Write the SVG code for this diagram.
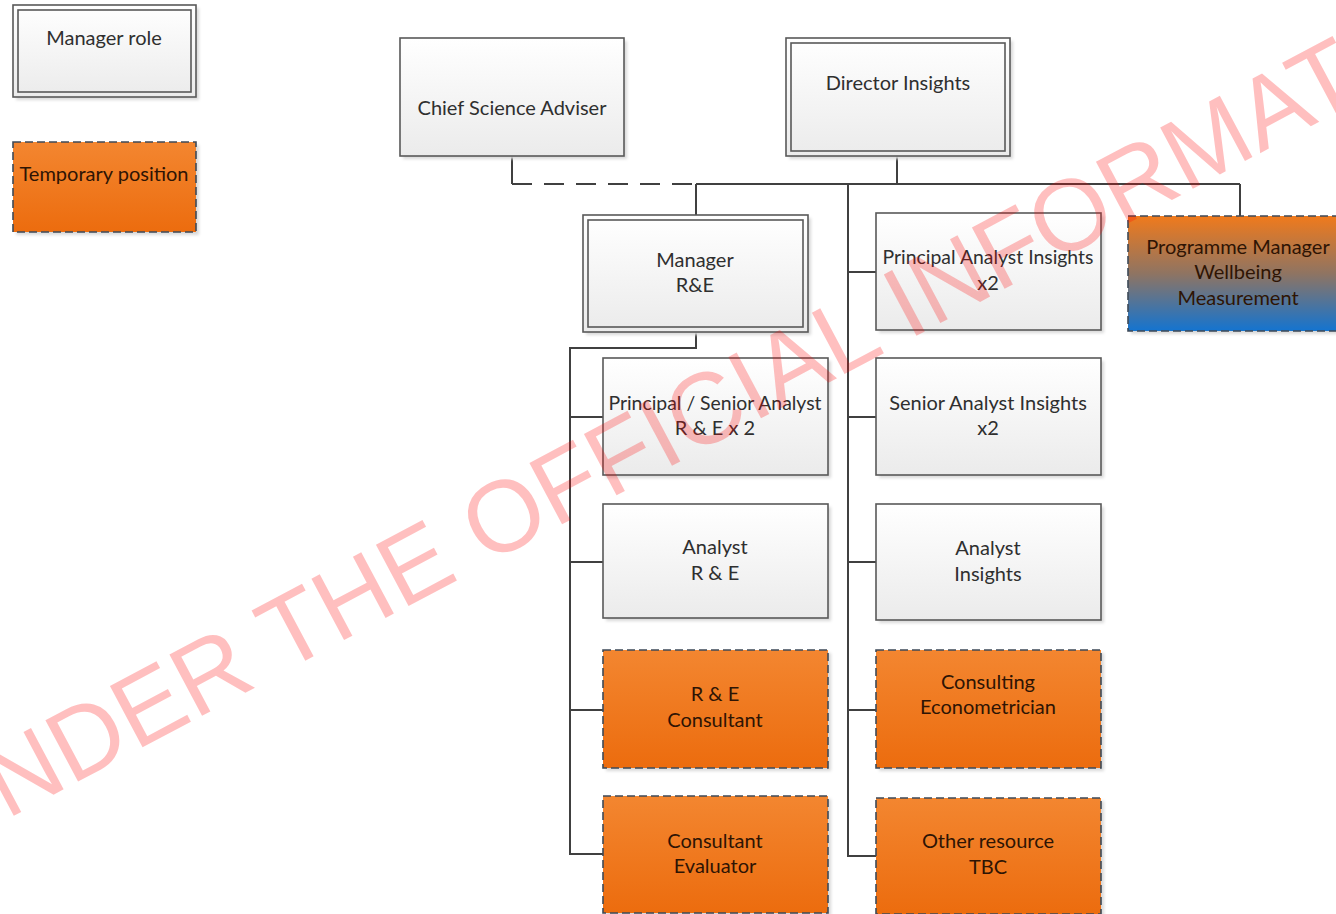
<svg xmlns="http://www.w3.org/2000/svg" width="1336" height="914" viewBox="0 0 1336 914">
  <defs>
    <linearGradient id="gGray" x1="0" y1="0" x2="0" y2="1">
      <stop offset="0" stop-color="#ffffff"/>
      <stop offset="1" stop-color="#ebebeb"/>
    </linearGradient>
    <linearGradient id="gOrange" x1="0" y1="0" x2="0" y2="1">
      <stop offset="0" stop-color="#f38630"/>
      <stop offset="1" stop-color="#ec6c0e"/>
    </linearGradient>
    <linearGradient id="gMixed" x1="0" y1="0" x2="0" y2="1">
      <stop offset="0" stop-color="#f07a1c"/>
      <stop offset="0.5" stop-color="#8f7462"/>
      <stop offset="1" stop-color="#1474d0"/>
    </linearGradient>
    <filter id="soft" x="-10%" y="-10%" width="130%" height="130%">
      <feGaussianBlur stdDeviation="1.5"/>
    </filter>
  </defs>
  <style>
    .shadow { fill: #d9d9d9; filter: url(#soft); }
    .box { fill: url(#gGray); stroke: #595959; stroke-width: 1.6; }
    .inner { fill: none; stroke: #595959; stroke-width: 1.6; }
    .temp { fill: url(#gOrange); stroke: #3e4a58; stroke-width: 1.6; stroke-dasharray: 8 4; }
    .mixed { fill: url(#gMixed); stroke: #3e4a58; stroke-width: 1.6; stroke-dasharray: 8 4; }
    .lbl { font-family: Lato, "Open Sans", "Liberation Sans", sans-serif; font-size: 20px; fill: #2f2f2f; text-anchor: middle; }
    .lblT { font-family: Lato, "Open Sans", "Liberation Sans", sans-serif; font-size: 20px; fill: #2e1404; text-anchor: middle; }
    .narrow { font-size: 19.4px; }
    .wire { fill: none; stroke: #404040; stroke-width: 2; }
    .dash { fill: none; stroke: #404040; stroke-width: 2; stroke-dasharray: 20 12; }
    .mark { font-family: "Liberation Sans", Arial, sans-serif; font-size: 101px; fill: #ff0000; fill-opacity: 0.25; }
  </style>

  <rect width="1336" height="914" fill="#ffffff"/>

  <!-- legend -->
  <g id="legend-manager">
    <rect class="shadow" x="16" y="8" width="183" height="92"/>
    <rect class="box" x="13" y="5" width="183" height="92"/>
    <rect class="inner" x="18" y="10" width="173" height="82"/>
    <text class="lbl" x="104" y="45">Manager role</text>
  </g>
  <g id="legend-temporary">
    <rect class="shadow" x="16" y="145" width="183" height="90"/>
    <rect class="temp" x="13" y="142" width="183" height="90"/>
    <text class="lblT" x="104" y="181">Temporary position</text>
  </g>

  <!-- connectors -->
  <g id="connectors">
    <path class="wire" d="M512 156 V184"/>
    <path class="dash" d="M512 184 H696"/>
    <path class="wire" d="M897 156 V184 M696 184 H1240 M696 184 V215 M1240 184 V216"/>
    <path class="wire" d="M848 184 V856 H876 M848 272 H876 M848 417 H876 M848 562 H876 M848 710 H876"/>
    <path class="wire" d="M696 332 V348 H570 V854 H603 M570 417 H603 M570 562 H603 M570 710 H603"/>
  </g>

  <!-- top level -->
  <g id="chief-science-adviser">
    <rect class="shadow" x="403" y="41" width="224" height="118"/>
    <rect class="box" x="400" y="38" width="224" height="118"/>
    <text class="lbl" x="512" y="115">Chief Science Adviser</text>
  </g>
  <g id="director-insights">
    <rect class="shadow" x="789" y="41" width="224" height="118"/>
    <rect class="box" x="786" y="38" width="224" height="118"/>
    <rect class="inner" x="791" y="43" width="214" height="108"/>
    <text class="lbl" x="898" y="90">Director Insights</text>
  </g>

  <!-- second level -->
  <g id="manager-re">
    <rect class="shadow" x="586" y="218" width="225" height="117"/>
    <rect class="box" x="583" y="215" width="225" height="117"/>
    <rect class="inner" x="588" y="220" width="215" height="107"/>
    <text class="lbl" x="695" y="267">Manager</text>
    <text class="lbl" x="695" y="292">R&amp;E</text>
  </g>
  <g id="principal-analyst-insights">
    <rect class="shadow" x="879" y="216" width="225" height="117"/>
    <rect class="box" x="876" y="213" width="225" height="117"/>
    <text class="lbl narrow" x="988" y="264">Principal Analyst Insights</text>
    <text class="lbl" x="988" y="290">x2</text>
  </g>
  <g id="programme-manager">
    <rect class="shadow" x="1131" y="219" width="215" height="115"/>
    <rect class="mixed" x="1128" y="216" width="215" height="115"/>
    <text class="lblT" x="1238" y="254">Programme Manager</text>
    <text class="lblT" x="1238" y="279">Wellbeing</text>
    <text class="lblT" x="1238" y="305">Measurement</text>
  </g>

  <!-- R&E column -->
  <g id="principal-senior-analyst-re">
    <rect class="shadow" x="606" y="361" width="225" height="117"/>
    <rect class="box" x="603" y="358" width="225" height="117"/>
    <text class="lbl narrow" x="715" y="410">Principal / Senior Analyst</text>
    <text class="lbl" x="715" y="435">R &amp; E x 2</text>
  </g>
  <g id="analyst-re">
    <rect class="shadow" x="606" y="507" width="225" height="114"/>
    <rect class="box" x="603" y="504" width="225" height="114"/>
    <text class="lbl" x="715" y="554">Analyst</text>
    <text class="lbl" x="715" y="580">R &amp; E</text>
  </g>
  <g id="re-consultant">
    <rect class="shadow" x="606" y="653" width="225" height="118"/>
    <rect class="temp" x="603" y="650" width="225" height="118"/>
    <text class="lblT" x="715" y="701">R &amp; E</text>
    <text class="lblT" x="715" y="727">Consultant</text>
  </g>
  <g id="consultant-evaluator">
    <rect class="shadow" x="606" y="799" width="225" height="117"/>
    <rect class="temp" x="603" y="796" width="225" height="117"/>
    <text class="lblT" x="715" y="848">Consultant</text>
    <text class="lblT" x="715" y="873">Evaluator</text>
  </g>

  <!-- Insights column -->
  <g id="senior-analyst-insights">
    <rect class="shadow" x="879" y="361" width="225" height="117"/>
    <rect class="box" x="876" y="358" width="225" height="117"/>
    <text class="lbl" x="988" y="410">Senior Analyst Insights</text>
    <text class="lbl" x="988" y="435">x2</text>
  </g>
  <g id="analyst-insights">
    <rect class="shadow" x="879" y="507" width="225" height="116"/>
    <rect class="box" x="876" y="504" width="225" height="116"/>
    <text class="lbl" x="988" y="555">Analyst</text>
    <text class="lbl" x="988" y="581">Insights</text>
  </g>
  <g id="consulting-econometrician">
    <rect class="shadow" x="879" y="653" width="225" height="118"/>
    <rect class="temp" x="876" y="650" width="225" height="118"/>
    <text class="lblT" x="988" y="689">Consulting</text>
    <text class="lblT" x="988" y="714">Econometrician</text>
  </g>
  <g id="other-resource">
    <rect class="shadow" x="879" y="801" width="225" height="116"/>
    <rect class="temp" x="876" y="798" width="225" height="116"/>
    <text class="lblT" x="988" y="848">Other resource</text>
    <text class="lblT" x="988" y="874">TBC</text>
  </g>

  <!-- release stamp across the chart -->
  <text class="mark" transform="translate(-58,854) rotate(-28)">UNDER THE OFFICIAL INFORMATION</text>
</svg>
